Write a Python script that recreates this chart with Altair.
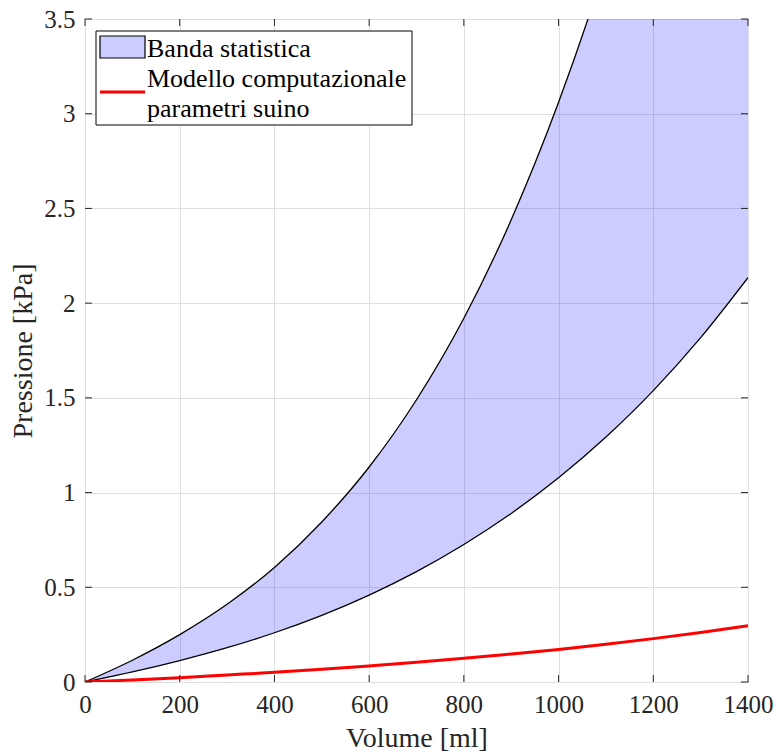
import altair as alt
import pandas as pd

# ---- data ----
volume = [0, 100, 200, 300, 400, 500, 600, 700, 800, 900, 1000, 1100, 1200, 1300, 1400]
band_lower = [0, 0.053, 0.113, 0.181, 0.26, 0.352, 0.459, 0.583, 0.726, 0.89, 1.078, 1.293, 1.538, 1.818, 2.135]
band_upper = [0, 0.115, 0.25, 0.41, 0.605, 0.845, 1.135, 1.49, 1.92, 2.44, 3.06, 3.79, 4.64, 5.62, 6.74]
model = [0, 0.011, 0.023, 0.037, 0.051, 0.067, 0.085, 0.104, 0.125, 0.148, 0.172, 0.199, 0.229, 0.261, 0.297]

x_ticks = [0, 200, 400, 600, 800, 1000, 1200, 1400]
y_ticks = [0, 0.5, 1, 1.5, 2, 2.5, 3, 3.5]
legend_labels = ["Banda statistica", "Modello computazionale\nparametri suino"]

df = pd.DataFrame({"volume": volume, "lower": band_lower, "upper": band_upper, "model": model})
xt = pd.DataFrame({"volume": x_ticks})
yt = pd.DataFrame({"p": y_ticks})
one = pd.DataFrame({"k": [0]})

W = H = 663
FRAME = "#262626"
FONT = "Liberation Serif"

common_axis = dict(labelFont=FONT, labelFontSize=25, labelColor=FRAME, labelFlush=False,
                   labelOverlap=False, titleFont=FONT, titleFontSize=28,
                   titleFontWeight="normal", titleColor=FRAME)

xscale = alt.Scale(domain=[0, 1400], nice=False, zero=False)
yscale = alt.Scale(domain=[0, 3.5], nice=False, zero=False)
xaxis = alt.Axis(values=x_ticks, format="d", title="Volume [ml]", labelPadding=10,
                 titleY=64, titleBaseline="alphabetic", **common_axis)
yaxis = alt.Axis(values=y_ticks, format="~g", title="Pressione [kPa]", labelPadding=10,
                 titleX=-54, titleBaseline="alphabetic", **common_axis)

X = alt.X("volume:Q", scale=xscale, axis=xaxis)

band = alt.Chart(df).mark_area(fill="#0000FF", fillOpacity=0.2, interpolate="monotone", clip=True).encode(
    x=X,
    y=alt.Y("lower:Q", scale=yscale, axis=yaxis),
    y2="upper:Q",
)
lower_edge = alt.Chart(df).mark_line(color="black", strokeWidth=1.3, interpolate="monotone", clip=True).encode(
    x=X, y=alt.Y("lower:Q", scale=yscale, axis=yaxis)
)
upper_edge = alt.Chart(df).mark_line(color="black", strokeWidth=1.3, interpolate="monotone", clip=True).encode(
    x=X, y=alt.Y("upper:Q", scale=yscale, axis=yaxis)
)
model_line = alt.Chart(df).mark_line(color="#FF0000", strokeWidth=3, interpolate="monotone", clip=True).encode(
    x=X, y=alt.Y("model:Q", scale=yscale, axis=yaxis)
)

# inward ticks on all four sides
TL = 7
tick_style = dict(color=FRAME, strokeWidth=1)
bottom_ticks = alt.Chart(xt).mark_rule(**tick_style).encode(
    x=X, y=alt.value(H), y2=alt.value(H - TL))
top_ticks = alt.Chart(xt).mark_rule(**tick_style).encode(
    x=X, y=alt.value(0), y2=alt.value(TL))
left_ticks = alt.Chart(yt).mark_rule(**tick_style).encode(
    y=alt.Y("p:Q", scale=yscale, axis=yaxis), x=alt.value(0), x2=alt.value(TL))
right_ticks = alt.Chart(yt).mark_rule(**tick_style).encode(
    y=alt.Y("p:Q", scale=yscale, axis=yaxis), x=alt.value(W), x2=alt.value(W - TL))

# legend box
leg_box = alt.Chart(one).mark_rect(fill="white", stroke="black", strokeWidth=1).encode(
    x=alt.value(11), x2=alt.value(327), y=alt.value(12), y2=alt.value(106))
leg_patch = alt.Chart(one).mark_rect(fill="#CCCCFF", stroke="black", strokeWidth=1.2).encode(
    x=alt.value(15), x2=alt.value(60), y=alt.value(17), y2=alt.value(39))
leg_line = alt.Chart(one).mark_rule(color="#FF0000", strokeWidth=3).encode(
    x=alt.value(15), x2=alt.value(60), y=alt.value(73))
leg_text1 = alt.Chart(one).mark_text(align="left", baseline="alphabetic", font=FONT, fontSize=26,
                                     color="black").encode(
    x=alt.value(62), y=alt.value(38), text=alt.value(legend_labels[0]))
leg_text2 = alt.Chart(one).mark_text(align="left", baseline="alphabetic", font=FONT, fontSize=26,
                                     color="black", lineBreak="\n", lineHeight=29.5).encode(
    x=alt.value(62), y=alt.value(68), text=alt.value(legend_labels[1]))

chart = alt.layer(
    band, lower_edge, upper_edge, model_line,
    bottom_ticks, top_ticks, left_ticks, right_ticks,
    leg_box, leg_patch, leg_line, leg_text1, leg_text2,
).properties(
    width=W, height=H,
    autosize=alt.AutoSizeParams(type="none"),
    padding={"left": 85, "top": 19, "right": 28, "bottom": 74},
    background="white",
).configure_view(
    stroke=FRAME, strokeWidth=1
).configure_axis(
    domain=False, ticks=False, tickSize=0, grid=True, gridColor="#DFDFDF", gridWidth=1,
    labelFont=FONT, labelFontSize=25, labelColor=FRAME, labelFlush=False,
    titleFont=FONT, titleFontSize=28, titleFontWeight="normal", titleColor=FRAME,
)

chart.save("out.html", embed_options={"renderer": "svg", "actions": False})
